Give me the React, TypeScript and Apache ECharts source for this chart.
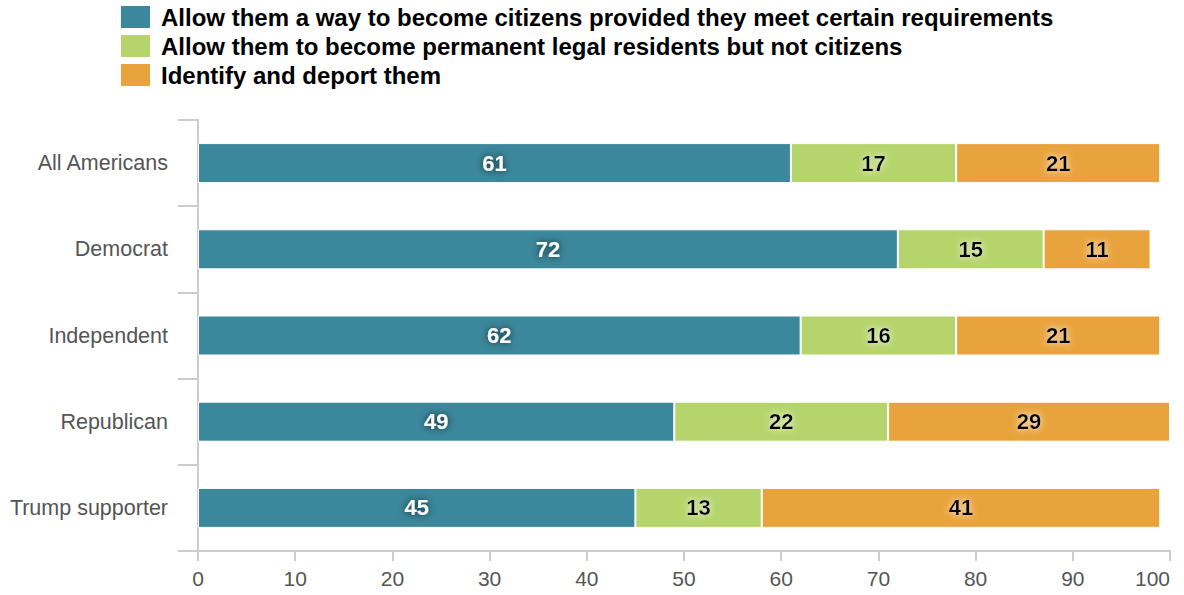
import React, { useEffect, useRef } from "react";
import * as echarts from "echarts";

const categories = ["All Americans", "Democrat", "Independent", "Republican", "Trump supporter"];
const seriesNames = [
  "Allow them a way to become citizens provided they meet certain requirements",
  "Allow them to become permanent legal residents but not citizens",
  "Identify and deport them",
];
const citizens = [61, 72, 62, 49, 45];
const residents = [17, 15, 16, 22, 13];
const deport = [21, 11, 21, 29, 41];
const colors = ["#3b879b", "#b6d46c", "#e9a33d"];

export default function App() {
  const ref = useRef<HTMLDivElement>(null);
  useEffect(() => {
    if (!ref.current) return;
    const chart = echarts.init(ref.current, null, { renderer: "svg" });
    const font = "'Liberation Sans', Arial, sans-serif";
    const mk = (name: string, data: number[], i: number) => ({
      name,
      type: "bar",
      stack: "total",
      data,
      barWidth: 40,
      itemStyle: { color: colors[i], borderColor: "#ffffff", borderWidth: 1 },
      label: {
        show: true,
        position: "inside",
        fontFamily: font,
        fontWeight: "bold",
        fontSize: 22,
        color: i === 0 ? "#ffffff" : "#000000",
        textShadowColor: i === 0 ? "rgba(0,0,0,0.7)" : "rgba(255,255,255,0.9)",
        textShadowBlur: 7,
      },
    });
    chart.setOption({
      animation: false,
      color: colors,
      legend: {
        orient: "vertical",
        left: 119,
        top: 4,
        padding: 0,
        itemWidth: 31,
        itemHeight: 24,
        itemGap: 3,
        icon: "rect",
        selectedMode: false,
        textStyle: { fontFamily: font, fontWeight: "bold", fontSize: 24, lineHeight: 24, color: "#000", padding: [0, 0, 0, 5] },
        data: seriesNames,
      },
      grid: { left: 198, right: 14, top: 120, bottom: 44, containLabel: false },
      xAxis: {
        type: "value",
        min: 0,
        max: 100,
        interval: 10,
        axisLine: { show: true, lineStyle: { color: "#cccccc", width: 2 } },
        axisTick: { show: true, length: 10, lineStyle: { color: "#cccccc", width: 2 } },
        splitLine: { show: false },
        axisLabel: { fontFamily: font, fontSize: 21, color: "#555555", margin: 17, alignMaxLabel: "right" },
      },
      yAxis: {
        type: "category",
        inverse: true,
        data: categories,
        axisLine: { show: true, lineStyle: { color: "#cccccc", width: 2 } },
        axisTick: { show: true, length: 20, alignWithLabel: false, lineStyle: { color: "#cccccc", width: 2 } },
        axisLabel: { fontFamily: font, fontSize: 21.5, color: "#555555", margin: 30 },
      },
      series: [mk(seriesNames[0], citizens, 0), mk(seriesNames[1], residents, 1), mk(seriesNames[2], deport, 2)],
    });
    return () => chart.dispose();
  }, []);
  return <div ref={ref} style={{ width: 1184, height: 595, position: "absolute", left: 0, top: 0 }} />;
}
